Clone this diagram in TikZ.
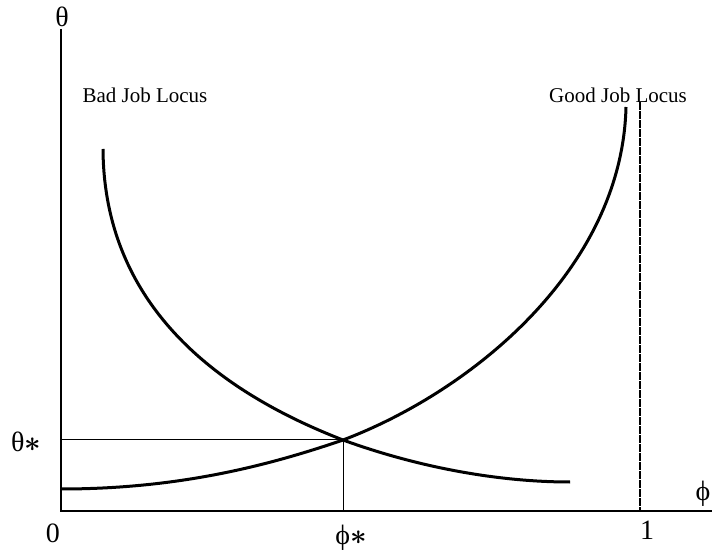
\documentclass[tikz,border=0pt]{standalone}
\usepackage{fontspec}
\setmainfont{Liberation Serif}
\usepackage{tikz}
\usetikzlibrary{positioning, calc}
\tikzset{
    axis/.style={line width=0.6pt},
    guide/.style={line width=0.5pt},
    locus/.style={line width=1.5pt},
    bound/.style={line width=1pt, dash pattern=on 2pt off 0.25pt},
    curvelabel/.style={font=\fontsize{10.5}{12}\selectfont, inner sep=0pt, anchor=base},
    axislabel/.style={font=\fontsize{14}{16}\selectfont, inner sep=0pt},
}
\newcommand{\eqstar}{$\boldsymbol{\ast}$}
\usepackage{amsmath, bm}

\begin{document}
\begin{tikzpicture}[x=0.5pt, y=-0.5pt]
    \useasboundingbox (0,0) rectangle (712,550);

    % === Axes ===
    \coordinate (O) at (61,511);
    \coordinate (ytop) at (61,29);
    \coordinate (xend) at (712,511);
    \draw[axis] (ytop) -- (O) -- (xend);

    \node[axislabel] (theta) at (62,17) {θ};
    \node[axislabel] (phi) at (703,494) {ϕ};
    \node[axislabel] (zero) at (53,533) {0};
    \node[axislabel] (one) at (647,530) {1};

    % === Equilibrium ===
    \coordinate (star) at (343,440);
    \coordinate (ystar) at (61,440);
    \coordinate (xstar) at (343,511);
    \draw[guide] (ystar) -- (star) -- (xstar);
    \node[axislabel] (thetastar) at (26,442) {θ\eqstar};
    \node[axislabel] (phistar) at (351,538) {ϕ\eqstar};

    % upper bound phi = 1
    \coordinate (onetop) at (640,102);
    \coordinate (onebot) at (640,511);
    \draw[bound] (onetop) -- (onebot);

    % === Loci ===
    \coordinate (badstart) at (103,149);
    \coordinate (badend) at (570,482);
    \draw[locus] (badstart) .. controls (104,320) and (240,400) .. (star)
        .. controls (420,468) and (500,482) .. (badend);

    \coordinate (goodstart) at (61,489);
    \coordinate (goodend) at (626,107);
    \draw[locus] (goodstart) .. controls (180,489) and (270,465) .. (star)
        .. controls (470,392) and (622,270) .. (goodend);

    \node[curvelabel] (badlbl) at (145,103) {Bad Job Locus};
    \node[curvelabel] (goodlbl) at (618,103) {Good Job Locus};
\end{tikzpicture}
\end{document}
